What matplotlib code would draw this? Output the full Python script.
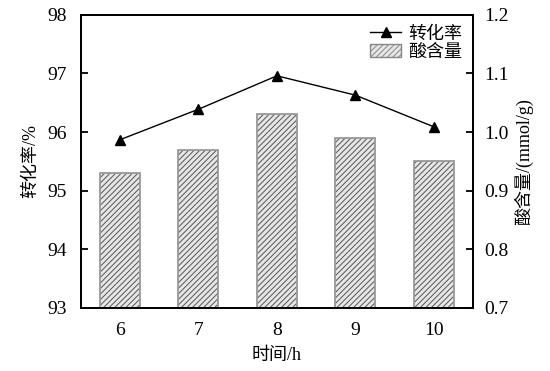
import matplotlib.pyplot as plt
from matplotlib.patches import Patch
from matplotlib.lines import Line2D

plt.rcParams['font.family'] = ['Liberation Serif', 'Noto Sans CJK SC']
plt.rcParams['hatch.linewidth'] = 0.7
plt.rcParams['axes.unicode_minus'] = False

# 数据
hours = [6, 7, 8, 9, 10]
conversion = [95.87, 96.39, 96.96, 96.63, 96.09]   # 转化率 %
acid = [0.93, 0.97, 1.03, 0.99, 0.95]               # 酸含量 mmol/g

fig = plt.figure(figsize=(5.5, 3.71), dpi=100)
ax = fig.add_axes([0.147, 0.17, 0.713, 0.79])
ax2 = ax.twinx()

# 柱状图（右轴）
ax2.bar(hours, acid, width=0.51, bottom=0, color='#e6e6e6', edgecolor='#555555',
        hatch='//////', linewidth=0, zorder=1)
ax2.bar(hours, acid, width=0.51, fill=False, edgecolor='#999999', linewidth=1.3, zorder=2)
ax2.set_ylim(0.7, 1.2)
ax2.set_yticks([0.7, 0.8, 0.9, 1.0, 1.1, 1.2])
ax2.set_yticklabels(['0.7', '0.8', '0.9', '1.0', '1.1', '1.2'])
ax2.set_ylabel('酸含量/(mmol/g)', fontsize=13, labelpad=4)

# 折线（左轴，放在柱子之上）
ax.set_zorder(ax2.get_zorder() + 1)
ax.patch.set_visible(False)
ax.plot(hours, conversion, color='black', linewidth=1.0, marker='^', markersize=7)
ax.set_ylim(93, 98)
ax.set_xlim(5.5, 10.5)
ax.set_xticks(hours)
ax.set_ylabel('转化率/%', fontsize=13, labelpad=6)
ax.set_xlabel('时间/h', fontsize=13, labelpad=6)

for a in (ax, ax2):
    for s in a.spines.values():
        s.set_linewidth(1.3)
    a.tick_params(axis='y', direction='in', length=5, width=1.3, labelsize=14)
ax.tick_params(axis='x', length=0, labelsize=14, pad=10)
ax.tick_params(axis='y', pad=10)
ax2.tick_params(axis='y', pad=8)

handles = [Line2D([], [], color='black', linewidth=1.0, marker='^', markersize=7),
           Patch(facecolor='#e6e6e6', edgecolor='#888888', hatch='//////')]
ax.legend(handles, ['转化率', '酸含量'], loc='upper right', frameon=False, fontsize=13,
          handlelength=1.7, handletextpad=0.4, borderaxespad=0.2, labelspacing=0.05)

fig.savefig('out.png', dpi=100)
